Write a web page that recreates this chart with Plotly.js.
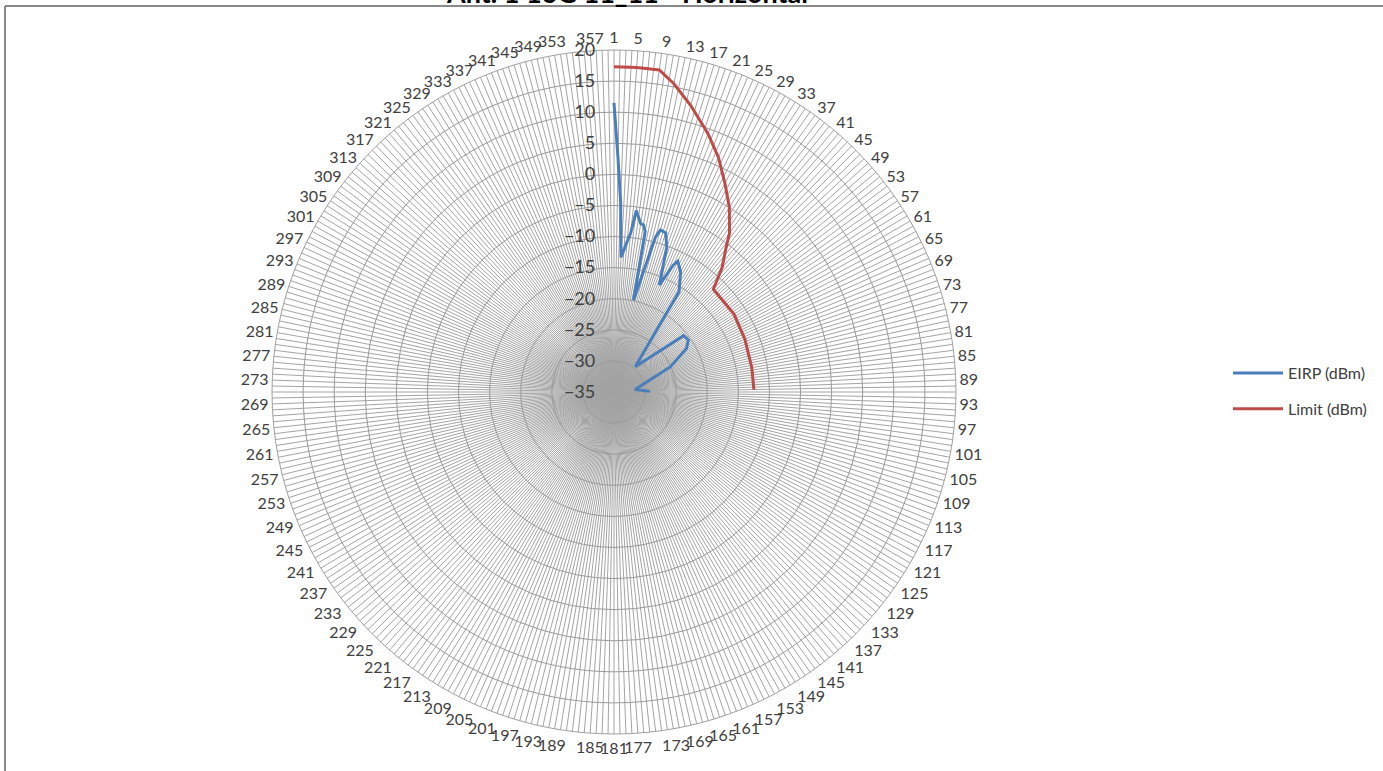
<!DOCTYPE html>
<html>
<head>
<meta charset="utf-8">
<script src="https://cdn.plot.ly/plotly-3.0.1.min.js"></script>
<style>
html,body{margin:0;padding:0;background:#fff;overflow:hidden;}
#chart{width:1383px;height:771px;}
</style>
</head>
<body>
<div id="chart"></div>
<script>
// ---- data ----
const chartTitle = 'Ant. 1 16G 11_11 - Horizontal';
const categoryCount = 360;               // categories 1..360 around the radar
const labelEvery = 4;                    // every 4th category is labelled (1, 5, 9, ...)

// EIRP (dBm): category number -> value
const eirpCategory = [1, 2, 3, 4, 6, 7, 8, 10, 11, 12, 13, 16, 17, 19, 21, 24, 26, 27, 30, 34, 41, 52, 56, 60, 67, 84, 90];
const eirpValue    = [11.5, 2.5, -4.5, -13.3, -10.7, -9.3, -5.6, -7.6, -7.7, -8.7, -19.9, -9.2, -7.9, -8.1, -10.2, -16.3, -12.5, -11.6, -12.9, -15.8, -29.7, -20.6, -20.4, -21.4, -25.1, -31.6, -29.2];

// Limit (dBm): category number -> value
const limitCategory = [1, 5, 9, 12, 16, 21, 25, 29, 33, 37, 39, 42, 45, 58, 69, 81, 90];
const limitValue    = [17.3, 17.3, 17.3, 15.5, 12.7, 9.2, 6.3, 3.0, 0.0, -3.4, -5.8, -8.5, -12.0, -12.0, -12.3, -12.5, -12.5];

const radialTicks = [-35, -30, -25, -20, -15, -10, -5, 0, 5, 10, 15, 20];
const seriesNames = ['EIRP (dBm)', 'Limit (dBm)'];

// ---- build chart ----
const catToDeg = c => (c - 1) * 360 / categoryCount;
const tickVals = [], tickText = [];
for (let c = 1; c <= categoryCount; c++) {
  tickVals.push(catToDeg(c));
  tickText.push((c - 1) % labelEvery === 0 ? String(c) : '');
}

const FONT = 'Lato, "Liberation Sans", Arial, sans-serif';
const W = 1383, H = 771;

const traces = [
  {type: 'scatterpolar', mode: 'lines', name: seriesNames[0], legendgroup: 'a',
   theta: eirpCategory.map(catToDeg), r: eirpValue,
   line: {color: '#4a7ebb', width: 3}, hoverinfo: 'skip'},
  {type: 'scatterpolar', mode: 'lines', name: seriesNames[1], legendgroup: 'b',
   theta: limitCategory.map(catToDeg), r: limitValue,
   line: {color: '#be4b48', width: 3}, hoverinfo: 'skip'}
];

const layout = {
  width: W, height: H,
  margin: {l: 0, r: 0, t: 0, b: 0},
  paper_bgcolor: '#fff',
  font: {family: FONT, color: '#404040'},
  showlegend: true,
  legend: {x: 1228/W, xanchor: 'left', y: 1 - 391/H, yanchor: 'middle',
           font: {family: FONT, size: 16, color: '#404040'}, itemwidth: 50, tracegroupgap: 12,
           bgcolor: 'rgba(0,0,0,0)'},
  annotations: [
    {text: '<b>' + chartTitle + '</b>', xref: 'paper', yref: 'paper',
     x: 627/W, xanchor: 'center', y: 1 + 8/H, yanchor: 'middle', showarrow: false,
     font: {family: FONT, size: 27, color: '#000'}}
  ],
  polar: {
    domain: {x: [272/W, 956/W], y: [1 - 734/H, 1 - 50/H]},
    bgcolor: '#fff',
    angularaxis: {
      rotation: 90, direction: 'clockwise',
      tickmode: 'array', tickvals: tickVals, ticktext: tickText,
      showgrid: true, gridcolor: '#a4a4a4', gridwidth: 1,
      showline: true, linecolor: '#a0a0a0', linewidth: 1,
      ticks: '', tickfont: {family: FONT, size: 16, color: '#404040'}
    },
    radialaxis: {
      range: [-35, 20], tickmode: 'array', tickvals: radialTicks,
      angle: 90, side: 'counterclockwise', tickangle: 90,
      showline: false, ticks: 'outside', ticklen: 12, tickcolor: 'rgba(0,0,0,0)',
      showgrid: true, gridcolor: '#9a9a9a', gridwidth: 1,
      tickfont: {family: FONT, size: 18, color: '#404040'}
    }
  },
  shapes: [
    {type: 'line', xref: 'paper', yref: 'paper', x0: 5/W, x1: 1, y0: 1 - 6/H, y1: 1 - 6/H,
     line: {color: '#898989', width: 2}},
    {type: 'line', xref: 'paper', yref: 'paper', x0: 5/W, x1: 5/W, y0: 0, y1: 1 - 6/H,
     line: {color: '#898989', width: 2}}
  ]
};

Plotly.newPlot('chart', traces, layout, {displayModeBar: false, staticPlot: true});
</script>
</body>
</html>
